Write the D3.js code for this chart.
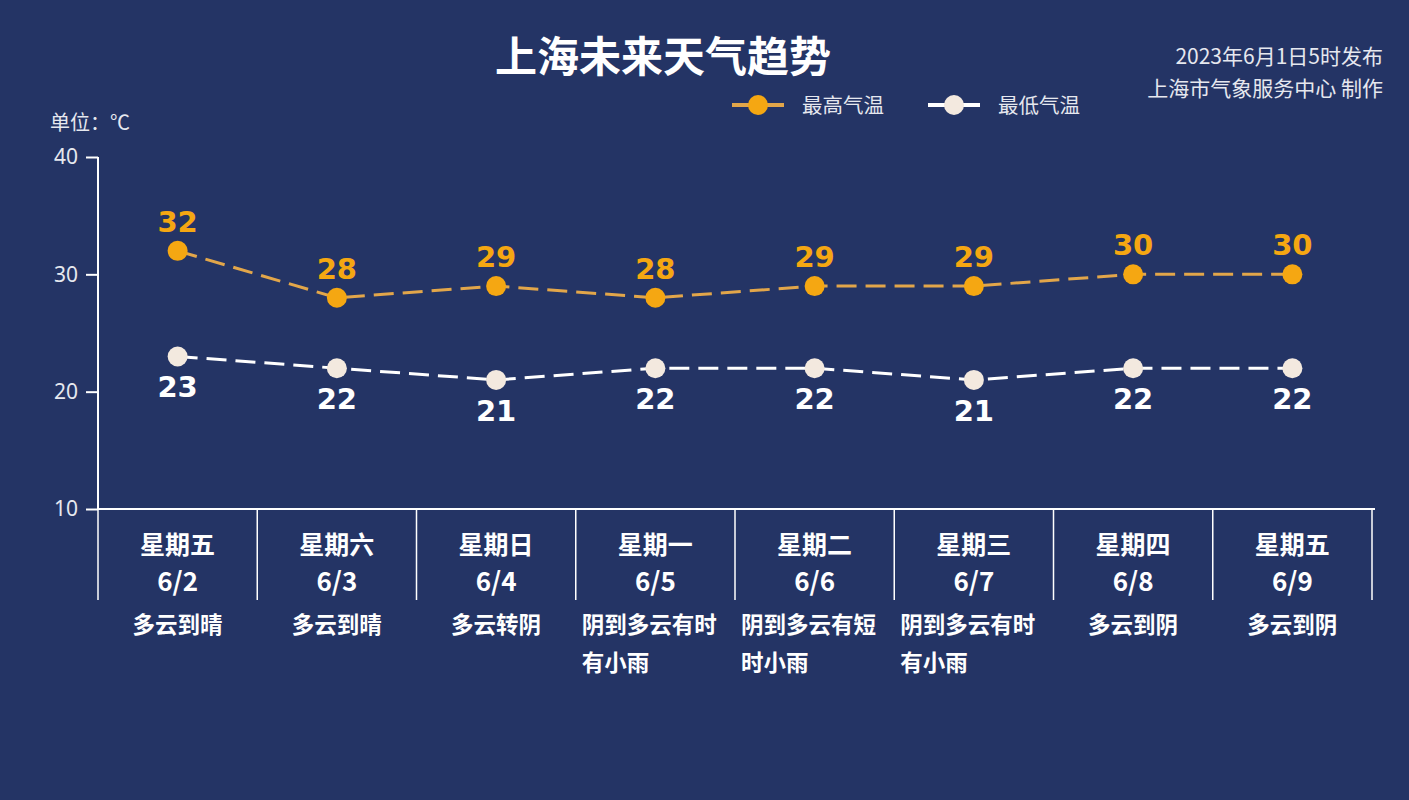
<!DOCTYPE html>
<html>
<head>
<meta charset="utf-8">
<script src="https://cdn.jsdelivr.net/npm/d3@7"></script>
<style>
  body { margin: 0; background: #243465; }
  svg { display: block; font-family: "Noto Sans CJK SC", "Noto Sans", sans-serif; }
</style>
</head>
<body>
<svg id="chart" width="1409" height="800"></svg>
<script>
const weekdays = ["星期五", "星期六", "星期日", "星期一", "星期二", "星期三", "星期四", "星期五"]
const dates = ["6/2", "6/3", "6/4", "6/5", "6/6", "6/7", "6/8", "6/9"]
const weather = ["多云到晴", "多云到晴", "多云转阴", "阴到多云有时有小雨", "阴到多云有短时小雨", "阴到多云有时有小雨", "多云到阴", "多云到阴"]
const highs = [32, 28, 29, 28, 29, 29, 30, 30]
const lows = [23, 22, 21, 22, 22, 21, 22, 22]
const yTicks = [10, 20, 30, 40]

const width = 1409,
  height = 800,
  orange = "#f5a712",
  cream = "#f3e9df",
  svg = d3.select("#chart")

svg.append("rect").attr("width", width).attr("height", height).attr("fill", "#243465")

let x = d3.scaleBand()
  .domain(d3.range(dates.length))
  .range([98, 1372])

let y = d3.scaleLinear()
  .domain([10, 40])
  .range([509, 157])

// title and notes
svg.append("text")
  .attr("x", 663).attr("y", 72)
  .attr("text-anchor", "middle")
  .attr("font-size", 42).attr("font-weight", "bold")
  .attr("fill", "#ffffff")
  .text("上海未来天气趋势")

svg.selectAll(".note")
  .data(["2023年6月1日5时发布", "上海市气象服务中心 制作"]).enter()
  .append("text")
  .attr("class", "note")
  .attr("x", 1383)
  .attr("y", (d, i) => 64 + i * 32)
  .attr("text-anchor", "end")
  .attr("font-size", 21)
  .attr("fill", "#e6e8ef")
  .text(d => d)

svg.append("text")
  .attr("x", 50).attr("y", 130)
  .attr("font-size", 20)
  .attr("fill", "#e6e8ef")
  .text("单位：℃")

// legend
let legend = [
  { name: "最高气温", line: "#e2a64a", fill: orange, x: 732 },
  { name: "最低气温", line: "#ffffff", fill: cream, x: 928 }
]
let lg = svg.selectAll(".legend")
  .data(legend).enter()
  .append("g")
  .attr("transform", d => `translate(${d.x},105)`)
lg.append("line")
  .attr("x1", 0).attr("x2", 52)
  .attr("stroke", d => d.line).attr("stroke-width", 4)
lg.append("circle")
  .attr("cx", 26).attr("r", 10)
  .attr("fill", d => d.fill)
lg.append("text")
  .attr("x", 70).attr("y", 8)
  .attr("font-size", 20.5)
  .attr("fill", "#e6e8ef")
  .text(d => d.name)

// y axis
let yAxis = svg.append("g")
  .attr("transform", "translate(98,0)")
  .call(d3.axisLeft(y).tickValues(yTicks).tickSize(12).tickPadding(8))
yAxis.select(".domain").attr("stroke", "#ffffff").attr("stroke-width", 2).attr("d", `M0,${y(40)}V${y(10)}`)
yAxis.selectAll(".tick line").attr("stroke", "#ffffff").attr("stroke-width", 2)
yAxis.selectAll(".tick text")
  .attr("fill", "#e6e8ef")
  .attr("font-size", 21)
  .attr("font-family", "'Liberation Sans Narrow', 'Noto Sans', sans-serif")

// x axis line and dividers
svg.append("line")
  .attr("x1", 98).attr("x2", 1375)
  .attr("y1", y(10)).attr("y2", y(10))
  .attr("stroke", "#ffffff").attr("stroke-width", 2)

svg.selectAll(".divider")
  .data(d3.range(dates.length + 1)).enter()
  .append("line")
  .attr("x1", d => d < dates.length ? x(d) : x.range()[1])
  .attr("x2", d => d < dates.length ? x(d) : x.range()[1])
  .attr("y1", y(10)).attr("y2", 600)
  .attr("stroke", "#ffffff").attr("stroke-width", 1.5)

let cx = i => x(i) + x.bandwidth() / 2

svg.selectAll(".weekday")
  .data(weekdays).enter()
  .append("text")
  .attr("x", (d, i) => cx(i)).attr("y", 554)
  .attr("text-anchor", "middle")
  .attr("font-size", 25).attr("font-weight", "bold")
  .attr("fill", "#ffffff")
  .text(d => d)

svg.selectAll(".date")
  .data(dates).enter()
  .append("text")
  .attr("x", (d, i) => cx(i)).attr("y", 591)
  .attr("text-anchor", "middle")
  .attr("font-size", 26).attr("font-weight", "bold")
  .attr("fill", "#ffffff")
  .text(d => d)

let wx = svg.selectAll(".weather")
  .data(weather).enter()
  .append("text")
  .attr("font-size", 22.5).attr("font-weight", "bold")
  .attr("fill", "#ffffff")
  .attr("text-anchor", d => d.length > 6 ? "start" : "middle")
wx.selectAll("tspan")
  .data((d, i) => {
    let lines = d.length > 6 ? [d.slice(0, 6), d.slice(6)] : [d]
    return lines.map(t => ({ t, i, wrap: d.length > 6 }))
  }).enter()
  .append("tspan")
  .attr("x", d => d.wrap ? x(d.i) + 6 : cx(d.i))
  .attr("y", (d, j) => 633 + j * 38)
  .text(d => d.t)

// series
let line = d3.line()
  .x((d, i) => cx(i))
  .y(d => y(d))

let series = [
  { values: highs, line: "#e2a64a", fill: orange, label: orange, dy: -19 },
  { values: lows, line: "#ffffff", fill: cream, label: "#ffffff", dy: 41 }
]

series.forEach(s => {
  svg.append("path")
    .datum(s.values)
    .attr("d", line)
    .attr("fill", "none")
    .attr("stroke", s.line)
    .attr("stroke-width", 3)
    .attr("stroke-dasharray", "20,9")

  svg.selectAll(null)
    .data(s.values).enter()
    .append("circle")
    .attr("cx", (d, i) => cx(i))
    .attr("cy", d => y(d))
    .attr("r", 10)
    .attr("fill", s.fill)

  svg.selectAll(null)
    .data(s.values).enter()
    .append("text")
    .attr("x", (d, i) => cx(i))
    .attr("y", d => y(d) + s.dy)
    .attr("text-anchor", "middle")
    .attr("font-size", 29).attr("font-weight", "bold")
    .attr("font-family", "'DejaVu Sans', sans-serif")
    .attr("fill", s.label)
    .text(d => d)
})
</script>
</body>
</html>
